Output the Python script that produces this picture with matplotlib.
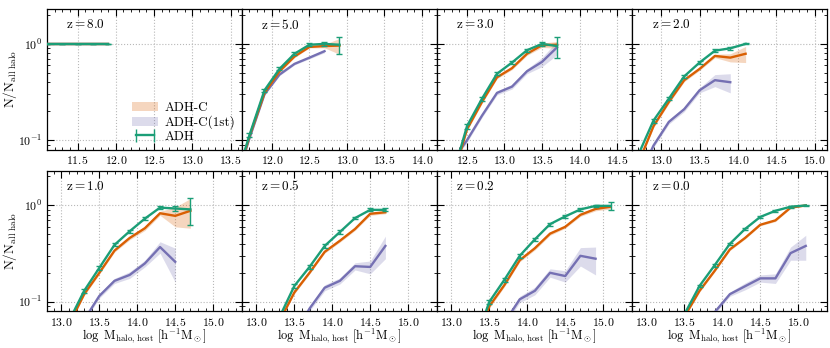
import numpy as np
import matplotlib
matplotlib.use("Agg")
import matplotlib.pyplot as plt
from matplotlib.patches import Patch
from matplotlib.ticker import MultipleLocator, NullFormatter

plt.rcParams["font.family"] = ["cmr10", "DejaVu Serif"]
plt.rcParams["mathtext.fontset"] = "cm"
plt.rcParams["axes.formatter.use_mathtext"] = True

nan = np.nan

# bin centres (log M_halo,host) and fractions per redshift
x_z80 = [11.1, 11.3, 11.5, 11.7, 11.9]
adh_z80 = [1.0, 1.0, 1.0, 1.0, 1.0]
adhc_z80 = [1.0, 1.0, 1.0, 1.0, 1.0]
adhc1_z80 = [1.0, 1.0, 1.0, 1.0, 1.0]
err_adh_z80 = [0, 0, 0, 0, 0]
err_adhc_z80 = [0, 0, 0, 0, 0]
err_adhc1_z80 = [0, 0, 0, 0, 0]

x_z50 = [11.5, 11.7, 11.9, 12.1, 12.3, 12.5, 12.7, 12.9]
adh_z50 = [0.035, 0.113, 0.33, 0.55, 0.79, 0.98, 1.0, 0.98]
adhc_z50 = [0.033, 0.11, 0.31, 0.52, 0.74, 0.93, 0.95, 0.96]
adhc1_z50 = [0.033, 0.105, 0.30, 0.48, 0.62, 0.72, 0.84, nan]
err_adh_z50 = [0.003, 0.006, 0.012, 0.02, 0.025, 0.03, 0.05, 0.2]
err_adhc_z50 = [0.0, 0.005, 0.01, 0.015, 0.02, 0.02, 0.04, 0.18]
err_adhc1_z50 = [0.0, 0.004, 0.008, 0.012, 0.015, 0.02, 0.03, nan]

x_z30 = [12.3, 12.5, 12.7, 12.9, 13.1, 13.3, 13.5, 13.7]
adh_z30 = [0.04, 0.14, 0.27, 0.49, 0.64, 0.86, 1.0, 0.95]
adhc_z30 = [0.038, 0.13, 0.25, 0.45, 0.56, 0.79, 0.97, 0.98]
adhc1_z30 = [0.06, 0.10, 0.18, 0.31, 0.36, 0.52, 0.65, 0.92]
err_adh_z30 = [0.003, 0.008, 0.012, 0.02, 0.025, 0.03, 0.04, 0.23]
err_adhc_z30 = [0.002, 0.005, 0.01, 0.015, 0.02, 0.03, 0.05, 0.08]
err_adhc1_z30 = [0.002, 0.005, 0.008, 0.015, 0.02, 0.03, 0.07, 0.15]

x_z20 = [12.7, 12.9, 13.1, 13.3, 13.5, 13.7, 13.9, 14.1]
adh_z20 = [0.07, 0.16, 0.27, 0.46, 0.64, 0.85, 0.90, 1.0]
adhc_z20 = [0.057, 0.14, 0.25, 0.42, 0.55, 0.75, 0.72, 0.79]
adhc1_z20 = [0.04, 0.088, 0.155, 0.21, 0.33, 0.42, 0.40, nan]
err_adh_z20 = [0.003, 0.008, 0.01, 0.015, 0.02, 0.025, 0.03, 0.01]
err_adhc_z20 = [0.002, 0.005, 0.01, 0.015, 0.02, 0.03, 0.07, 0.15]
err_adhc1_z20 = [0.002, 0.004, 0.008, 0.012, 0.02, 0.06, 0.09, nan]

x_z10 = [13.1, 13.3, 13.5, 13.7, 13.9, 14.1, 14.3, 14.5, 14.7]
adh_z10 = [0.063, 0.13, 0.225, 0.39, 0.54, 0.73, 0.95, 0.93, 0.91]
adhc_z10 = [0.058, 0.12, 0.20, 0.34, 0.46, 0.58, 0.83, 0.78, 0.88]
adhc1_z10 = [0.03, 0.065, 0.115, 0.165, 0.19, 0.25, 0.37, 0.26, nan]
err_adh_z10 = [0.002, 0.006, 0.01, 0.015, 0.02, 0.03, 0.04, 0.06, 0.28]
err_adhc_z10 = [0.002, 0.004, 0.007, 0.012, 0.02, 0.03, 0.04, 0.18, 0.3]
err_adhc1_z10 = [0.002, 0.003, 0.006, 0.01, 0.015, 0.02, 0.05, 0.10, nan]

x_z05 = [13.3, 13.5, 13.7, 13.9, 14.1, 14.3, 14.5, 14.7]
adh_z05 = [0.068, 0.146, 0.23, 0.38, 0.53, 0.74, 0.90, 0.90]
adhc_z05 = [0.062, 0.125, 0.20, 0.33, 0.43, 0.57, 0.82, 0.85]
adhc1_z05 = [0.02, 0.045, 0.085, 0.14, 0.165, 0.234, 0.23, 0.38]
err_adh_z05 = [0.003, 0.006, 0.01, 0.015, 0.02, 0.025, 0.03, 0.03]
err_adhc_z05 = [0.002, 0.004, 0.006, 0.01, 0.015, 0.02, 0.03, 0.03]
err_adhc1_z05 = [0.001, 0.003, 0.005, 0.01, 0.012, 0.02, 0.035, 0.1]

x_z02 = [13.3, 13.5, 13.7, 13.9, 14.1, 14.3, 14.5, 14.7, 14.9, 15.1]
adh_z02 = [0.036, 0.10, 0.17, 0.30, 0.445, 0.64, 0.77, 0.91, 0.99, 0.99]
adhc_z02 = [0.035, 0.09, 0.15, 0.27, 0.36, 0.51, 0.60, 0.80, 0.92, 0.97]
adhc1_z02 = [0.02, 0.035, 0.061, 0.106, 0.13, 0.20, 0.185, 0.30, 0.28, nan]
err_adh_z02 = [0.002, 0.005, 0.008, 0.012, 0.018, 0.025, 0.03, 0.03, 0.03, 0.09]
err_adhc_z02 = [0.002, 0.004, 0.006, 0.01, 0.015, 0.02, 0.02, 0.03, 0.04, 0.05]
err_adhc1_z02 = [0.001, 0.002, 0.004, 0.008, 0.012, 0.02, 0.025, 0.065, 0.09, nan]

x_z00 = [13.5, 13.7, 13.9, 14.1, 14.3, 14.5, 14.7, 14.9, 15.1]
adh_z00 = [0.074, 0.146, 0.24, 0.40, 0.57, 0.76, 0.88, 0.97, 1.0]
adhc_z00 = [0.07, 0.13, 0.21, 0.35, 0.46, 0.63, 0.70, 0.95, 1.0]
adhc1_z00 = [0.03, 0.05, 0.078, 0.12, 0.145, 0.175, 0.175, 0.32, 0.38]
err_adh_z00 = [0.002, 0.005, 0.008, 0.012, 0.015, 0.02, 0.025, 0.02, 0.01]
err_adhc_z00 = [0.002, 0.004, 0.006, 0.01, 0.012, 0.015, 0.02, 0.02, 0.01]
err_adhc1_z00 = [0.001, 0.002, 0.003, 0.006, 0.012, 0.015, 0.02, 0.05, 0.11]

redshift_labels = ["8.0", "5.0", "3.0", "2.0", "1.0", "0.5", "0.2", "0.0"]
xlims = [(11.1, 13.65), (11.6, 14.2), (12.1, 14.7), (12.62, 15.16),
         (12.81, 15.38), (12.81, 15.38), (12.81, 15.38), (12.81, 15.38)]

panels = [
    (x_z80, adh_z80, err_adh_z80, adhc_z80, err_adhc_z80, adhc1_z80, err_adhc1_z80),
    (x_z50, adh_z50, err_adh_z50, adhc_z50, err_adhc_z50, adhc1_z50, err_adhc1_z50),
    (x_z30, adh_z30, err_adh_z30, adhc_z30, err_adhc_z30, adhc1_z30, err_adhc1_z30),
    (x_z20, adh_z20, err_adh_z20, adhc_z20, err_adhc_z20, adhc1_z20, err_adhc1_z20),
    (x_z10, adh_z10, err_adh_z10, adhc_z10, err_adhc_z10, adhc1_z10, err_adhc1_z10),
    (x_z05, adh_z05, err_adh_z05, adhc_z05, err_adhc_z05, adhc1_z05, err_adhc1_z05),
    (x_z02, adh_z02, err_adh_z02, adhc_z02, err_adhc_z02, adhc1_z02, err_adhc1_z02),
    (x_z00, adh_z00, err_adh_z00, adhc_z00, err_adhc_z00, adhc1_z00, err_adhc1_z00),
]

c_adh = "#1b9e77"
c_adhc = "#d95f02"
c_adhc1 = "#7570b3"


def band(ax, x, y, e, color):
    x = np.asarray(x, float)
    y = np.asarray(y, float)
    e = np.asarray(e, float)
    m = np.isfinite(y)
    ax.fill_between(x[m], (y - e)[m], (y + e)[m], color=color, alpha=0.25,
                    lw=0, zorder=2)
    ax.plot(x[m], y[m], color=color, lw=1.7, zorder=3)


fig, axes = plt.subplots(2, 4, figsize=(8.3, 3.48), dpi=100, sharey=True)
fig.subplots_adjust(left=0.0566, right=0.9964, top=0.974, bottom=0.106,
                    wspace=0, hspace=0.15)

for i, ax in enumerate(axes.flat):
    x, adh, e_adh, adhc, e_adhc, adhc1, e_adhc1 = panels[i]
    band(ax, x, adhc1, e_adhc1, c_adhc1)
    band(ax, x, adhc, e_adhc, c_adhc)
    ax.errorbar(x, adh, yerr=e_adh, color=c_adh, lw=1.7, elinewidth=1.0,
                capsize=2.5, capthick=1.0, zorder=4)

    ax.set_yscale("log")
    ax.set_ylim(0.08, 2.3)
    ax.set_xlim(*xlims[i])
    ax.xaxis.set_major_locator(MultipleLocator(0.5))
    ax.xaxis.set_minor_locator(MultipleLocator(0.1))
    ax.yaxis.set_minor_formatter(NullFormatter())
    ax.grid(True, which="major", ls=":", color="0.72", lw=0.8, zorder=0)
    ax.tick_params(which="both", direction="in", top=True, right=True,
                   labelsize=8.5)
    ax.tick_params(which="major", length=5, width=0.8)
    ax.tick_params(which="minor", length=2.5, width=0.6)
    if i % 4 != 0:
        ax.tick_params(labelleft=False)
    else:
        ax.set_ylabel(r"$\mathrm{N/N_{all\ halo}}$", fontsize=9.5)
        ax.yaxis.set_label_coords(-0.145, 0.5)
    if i >= 4:
        ax.set_xlabel(r"$\log\ \mathrm{M_{halo,\,host}}\ [\mathrm{h^{-1}M_\odot}]$",
                      fontsize=9)
        ax.xaxis.set_label_coords(0.5, -0.11)
    ax.text(0.1, 0.89, r"$\mathrm{z = %s}$" % redshift_labels[i],
            transform=ax.transAxes, fontsize=9.5, va="center")
    for sp in ax.spines.values():
        sp.set_linewidth(0.9)

ax0 = axes[0, 0]
h_adhc = Patch(facecolor=c_adhc, alpha=0.25, edgecolor="none")
h_adhc1 = Patch(facecolor=c_adhc1, alpha=0.25, edgecolor="none")
h_adh = ax0.errorbar([], [], yerr=[], color=c_adh, lw=1.7, elinewidth=1.0,
                     capsize=2.5, capthick=1.0)
ax0.legend([h_adhc, h_adhc1, h_adh], ["ADH-C", "ADH-C(1st)", "ADH"],
           loc="lower right", frameon=False, fontsize=9.5, numpoints=2,
           handlelength=2.0, handletextpad=0.5, labelspacing=0.1,
           borderaxespad=0.1)

fig.savefig("out.png", dpi=100)
